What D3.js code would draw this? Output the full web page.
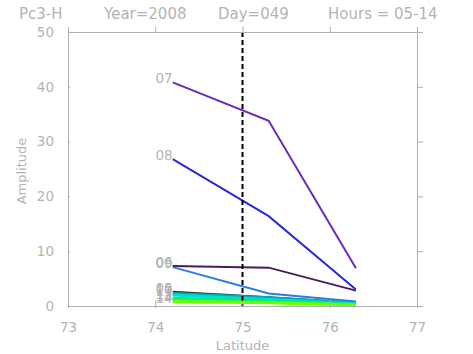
<!DOCTYPE html>
<html>
<head>
<meta charset="utf-8">
<script src="https://cdn.jsdelivr.net/npm/d3@7/dist/d3.min.js"></script>
<style>
  html, body { margin: 0; padding: 0; background: #fff; }
  svg { display: block; }
  text { font-family: "DejaVu Sans", sans-serif; fill: #b4b4b4; }
</style>
</head>
<body>
<svg id="chart" width="473" height="354"></svg>
<script>
// Pc3-H amplitude versus latitude, one line per UT hour
const latitudes = [74.2, 75.3, 76.3];
const hours = ["05", "06", "07", "08", "09", "10", "11", "12", "13", "14"];
const amp05 = [2.6, 1.6, 0.6];
const amp06 = [7.3, 7.0, 2.8];
const amp07 = [40.8, 33.8, 6.9];
const amp08 = [26.8, 16.4, 3.0];
const amp09 = [7.1, 2.3, 0.8];
const amp10 = [2.3, 1.5, 0.5];
const amp11 = [2.0, 1.2, 0.4];
const amp12 = [1.4, 0.9, 0.3];
const amp13 = [1.1, 0.7, 0.25];
const amp14 = [0.8, 0.6, 0.2];
const hourColors = ["#1f3a3a", "#4c1a5c", "#6a2cb8", "#2a2ad8", "#2a7ce6",
                    "#00aab8", "#00dcd0", "#00e890", "#30f030", "#66ff00"];
const xTicks = [73, 74, 75, 76, 77];
const yTicks = [0, 10, 20, 30, 40, 50];
const markLatitude = 75;
const titleParts = ["Pc3-H", "Year=2008", "Day=049", "Hours = 05-14"];

const series = hours.map((h, i) => ({
  hour: h,
  color: hourColors[i],
  values: [amp05, amp06, amp07, amp08, amp09, amp10, amp11, amp12, amp13, amp14][i]
}));

const svg = d3.select("#chart");
const plotL = 68, plotR = 417, plotT = 32, plotB = 306;
const x = d3.scaleLinear().domain([73, 77]).range([plotL, plotR]);
const y = d3.scaleLinear().domain([0, 50]).range([plotB, plotT]);
const axisColor = "#b0b0b0";

// Lines, drawn so the later (greener) hours sit on top
const line = d3.line().x((d, i) => x(latitudes[i])).y(d => y(d));
svg.append("g").selectAll("path")
  .data(series)
  .join("path")
  .attr("d", d => line(d.values))
  .attr("fill", "none")
  .attr("stroke", d => d.color)
  .attr("stroke-width", d => +d.hour >= 10 ? 3 : 2);

// Hour labels at the start of each line (they pile up where lines start together)
svg.append("g").selectAll("text")
  .data(series)
  .join("text")
  .attr("x", x(latitudes[0]))
  .attr("y", d => y(d.values[0]) + 1)
  .attr("text-anchor", "end")
  .attr("font-size", 13.5)
  .text(d => d.hour);

// Dashed marker at 75 degrees
svg.append("line")
  .attr("x1", x(markLatitude)).attr("x2", x(markLatitude))
  .attr("y1", y(50)).attr("y2", y(0))
  .attr("stroke", "#000").attr("stroke-width", 2)
  .attr("stroke-dasharray", "5,3");

function styleAxis(g) {
  g.select(".domain").attr("stroke", axisColor);
  g.selectAll(".tick line").attr("stroke", axisColor);
  g.selectAll(".tick text").attr("fill", "#b4b4b4")
    .attr("font-family", "DejaVu Sans, sans-serif").attr("font-size", 13.5);
}

// Bottom axis with labels
const gb = svg.append("g").attr("transform", `translate(0,${plotB})`)
  .call(d3.axisBottom(x).tickValues(xTicks).tickFormat(d3.format("d"))
    .tickSize(-6).tickSizeOuter(0).tickPadding(16));
styleAxis(gb);
gb.selectAll(".tick line").attr("y2", 2).attr("y1", -6);

// Top axis, ticks only
const gt = svg.append("g").attr("transform", `translate(0,${plotT})`)
  .call(d3.axisTop(x).tickValues(xTicks).tickSize(5).tickSizeOuter(0).tickFormat(""));
styleAxis(gt);

// Left axis with labels
const gl = svg.append("g").attr("transform", `translate(${plotL},0)`)
  .call(d3.axisLeft(y).tickValues(yTicks).tickSize(6).tickSizeOuter(0).tickPadding(8));
styleAxis(gl);
gl.selectAll(".tick line").attr("x2", 2);

// Right axis, ticks only
const gr = svg.append("g").attr("transform", `translate(${plotR},0)`)
  .call(d3.axisRight(y).tickValues(yTicks).tickSize(6).tickSizeOuter(0).tickFormat(""));
styleAxis(gr);

// Axis titles
svg.append("text")
  .attr("x", x(75)).attr("y", 350)
  .attr("text-anchor", "middle").attr("font-size", 13)
  .text("Latitude");
svg.append("text")
  .attr("transform", `translate(26,${(plotT + plotB) / 2 + 2}) rotate(-90)`)
  .attr("text-anchor", "middle").attr("font-size", 13)
  .text("Amplitude");

// Title line
const titleX = [19, 104, 218, 328];
svg.append("g").selectAll("text")
  .data(titleParts)
  .join("text")
  .attr("x", (d, i) => titleX[i])
  .attr("y", 19)
  .attr("font-size", 15)
  .text(d => d);
</script>
</body>
</html>
